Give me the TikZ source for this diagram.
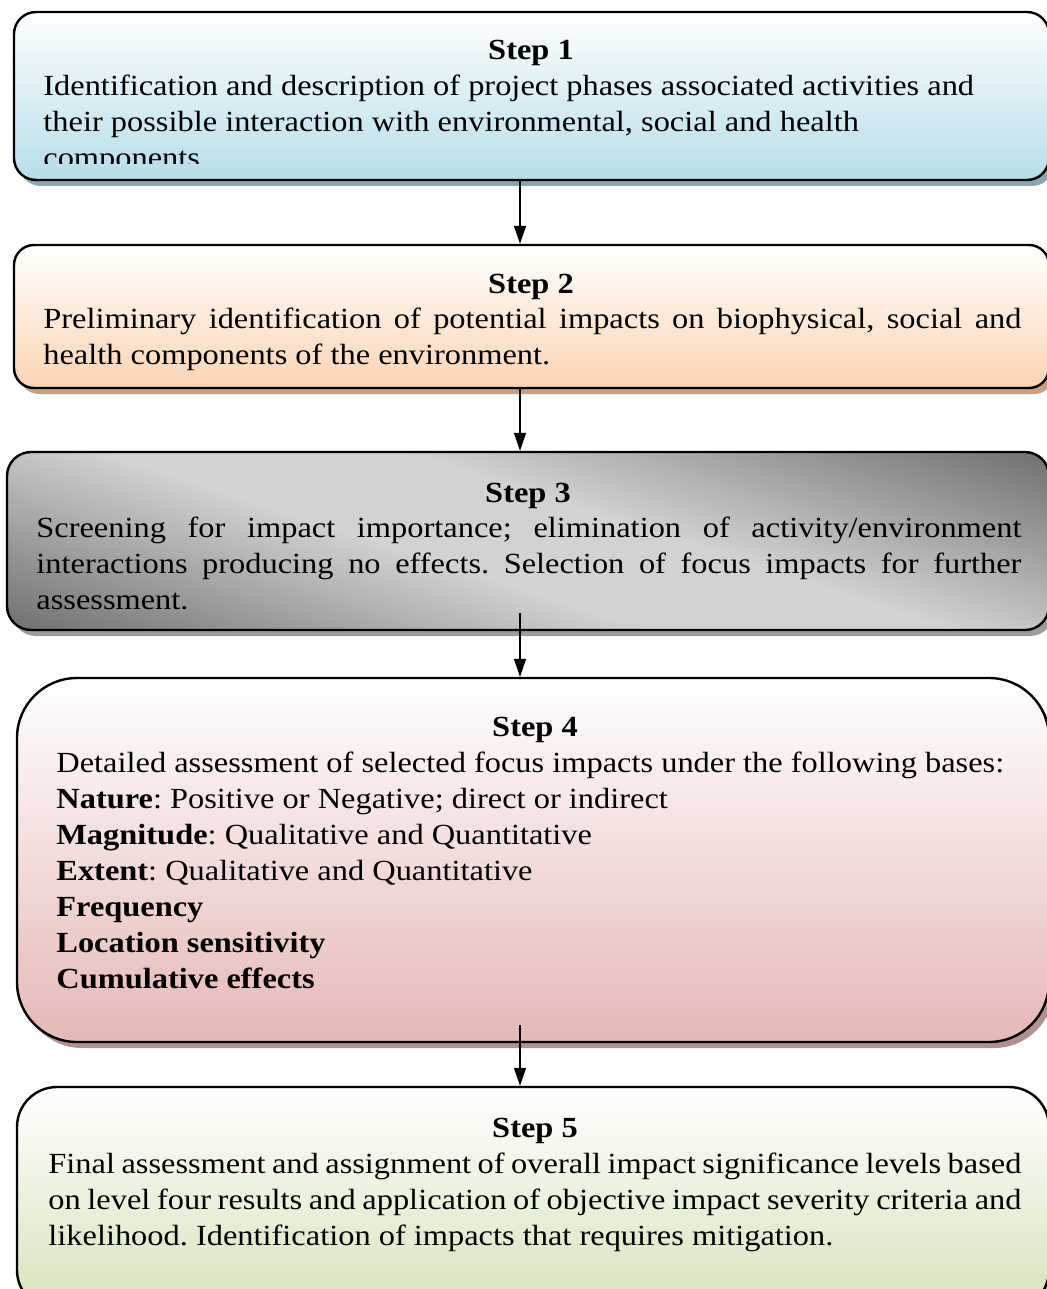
\documentclass[tikz,border=0pt]{standalone}
\usepackage{fontspec}
\setmainfont{Liberation Serif}[FakeStretch=1.11]
\usetikzlibrary{arrows.meta,positioning,fit,shadows}
\frenchspacing

\definecolor{aquaend}{HTML}{B6DDE8}
\definecolor{aquashadow}{HTML}{8AA7B1}
\definecolor{peachend}{HTML}{FBD4B4}
\definecolor{peachshadow}{HTML}{C6A283}
\definecolor{greydark}{HTML}{5E5E5E}
\definecolor{greylight}{HTML}{D2D2D2}
\definecolor{greyshadow}{HTML}{9C9C9C}
\definecolor{roseend}{HTML}{E5B8B7}
\definecolor{roseshadow}{HTML}{B09192}
\definecolor{limeend}{HTML}{D6E3BC}
\definecolor{limeshadow}{HTML}{A6B38F}

\pgfdeclarehorizontalshading{greyband}{100bp}{color(0bp)=(greydark); color(14bp)=(greydark);
  color(44bp)=(greylight); color(56bp)=(greylight); color(86bp)=(greydark); color(100bp)=(greydark)}

\begin{document}
\begin{tikzpicture}[
    x=0.5pt, y=-0.5pt,
    >={Triangle[length=9pt,width=6pt]},
    stepbox/.style={draw,line width=1.2pt,inner sep=0pt},
    boxshadow/.style={drop shadow={shadow xshift=2.5pt,shadow yshift=-3pt,fill=#1,opacity=1}},
    title/.style={anchor=base,inner sep=0pt,font=\fontsize{14.6}{18}\selectfont\bfseries},
    body/.style={anchor=base west,inner sep=0pt,font=\fontsize{14.6}{18}\selectfont},
    flow/.style={->,line width=0.75pt},
  ]

  % page frame
  \path[use as bounding box,fill=white] (0,0) rectangle (1046,1289);

  % --- the five step boxes (right edge runs just past the page) ---
  \node[stepbox,rounded corners=11pt,top color=white,bottom color=aquaend,
        boxshadow=aquashadow,fit={(14,12) (1049,180)}] (step1) {};
  \node[stepbox,rounded corners=10pt,top color=white,bottom color=peachend,
        boxshadow=peachshadow,fit={(14,245) (1049,388)}] (step2) {};
  \node[stepbox,rounded corners=12pt,shading=greyband,shading angle=72,
        boxshadow=greyshadow,fit={(7,452) (1049,630)}] (step3) {};
  \node[stepbox,rounded corners=30pt,top color=white,bottom color=roseend,
        boxshadow=roseshadow,fit={(17,678) (1049,1042)}] (step4) {};
  \node[stepbox,rounded corners=20pt,top color=white,bottom color=limeend,
        boxshadow=limeshadow,fit={(17,1087) (1049,1310)}] (step5) {};

  % --- step 1 text (last line cut by the box, as in the original) ---
  \node[title] (title1) at (531,60) {Step 1};
  \begin{scope}
    \clip (0,0) rectangle (1046,164);
    \node[body] (text1) at (43,96) {\parbox[t]{490pt}{\raggedright
      Identification and description of project phases associated activities and\\
      their possible interaction with environmental, social and health\\
      components}};
  \end{scope}

  % --- step 2 ---
  \node[title] (title2) at (531,293) {Step 2};
  \node[body] (text2) at (43,328) {\parbox[t]{489pt}{
    Preliminary identification of potential impacts on biophysical, social and\linebreak
    health components of the environment.}};

  % --- step 3 ---
  \node[title] (title3) at (528,502) {Step 3};
  \node[body] (text3) at (36,537) {\parbox[t]{492.5pt}{
    Screening for impact importance; elimination of activity/environment\linebreak
    interactions producing no effects. Selection of focus impacts for further\linebreak
    assessment.}};

  % --- step 4: assessment bases ---
  \node[title] (title4) at (535,736) {Step 4};
  \node[body] (text4) at (56,772) {\parbox[t]{490pt}{\raggedright
    Detailed assessment of selected focus impacts under the following bases:\\
    \textbf{Nature}: Positive or Negative; direct or indirect\\
    \textbf{Magnitude}: Qualitative and Quantitative\\
    \textbf{Extent}: Qualitative and Quantitative\\
    \textbf{Frequency}\\
    \textbf{Location sensitivity}\\
    \textbf{Cumulative effects}}};

  % --- step 5 ---
  \node[title] (title5) at (535,1137) {Step 5};
  \node[body] (text5) at (48,1173) {\parbox[t]{486.5pt}{
    Final assessment and assignment of overall impact significance levels based\linebreak
    on level four results and application of objective impact severity criteria and\linebreak
    likelihood. Identification of impacts that requires mitigation.}};

  % --- connectors, all on one vertical line ---
  \coordinate (axis) at (520,0);
  \coordinate (out3) at (520,613);
  \coordinate (out4) at (520,1025);
  \draw[flow] (step1.south -| axis) -- (step2.north -| axis);
  \draw[flow] (step2.south -| axis) -- (step3.north -| axis);
  \draw[flow] (out3) -- (step4.north -| axis);
  \draw[flow] (out4) -- (step5.north -| axis);

\end{tikzpicture}
\end{document}
